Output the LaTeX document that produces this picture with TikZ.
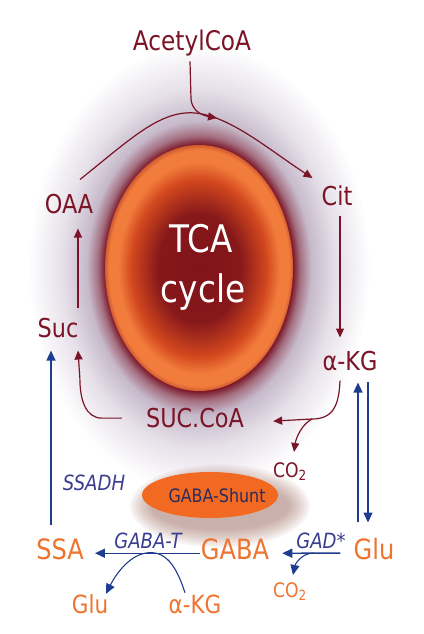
\documentclass[tikz,border=0pt]{standalone}
\usepackage{fontspec}
\setmainfont{DejaVu Sans}[FakeStretch=0.86]
\usetikzlibrary{arrows.meta}
\usepackage{xcolor}
\definecolor{tcared}{HTML}{7A1426}
\definecolor{gabaorange}{HTML}{EE7430}
\definecolor{shuntblue}{HTML}{1F3D8F}
\definecolor{enzymeblue}{HTML}{3B3D8F}
\definecolor{shunttext}{HTML}{2B2C5C}
\definecolor{shuntorange}{HTML}{F26A22}
\definecolor{shuntshadow}{HTML}{8A4A3A}
\definecolor{haloviolet}{HTML}{C6B9CA}
\definecolor{halopale}{HTML}{E6E0E9}
\definecolor{cyclecore}{HTML}{80141A}
\definecolor{cyclemid}{HTML}{D2481E}
\definecolor{cycleedge}{HTML}{F27C3C}
\definecolor{cyclerim}{HTML}{9A2A20}
\pgfdeclareradialshading{cyclehalo}{\pgfpoint{0bp}{0bp}}{%
  color(0bp)=(tcared); color(13.7bp)=(tcared); color(14.8bp)=(tcared!45!haloviolet);
  color(16.4bp)=(haloviolet); color(20bp)=(halopale); color(25bp)=(white); color(50bp)=(white)}
\pgfdeclareradialshading{cyclefill}{\pgfpoint{0bp}{0bp}}{%
  color(0bp)=(cyclecore); color(11bp)=(cyclecore!92!cyclemid); color(18bp)=(cyclemid);
  color(21.5bp)=(cycleedge); color(24bp)=(cycleedge); color(25bp)=(cycleedge!60!cyclerim); color(50bp)=(cyclerim)}
\tikzset{
  tcalabel/.style={text=tcared, font=\fontsize{26}{28}\selectfont, anchor=base, inner sep=3pt},
  gabalabel/.style={text=gabaorange, font=\fontsize{28}{30}\selectfont, anchor=base, inner sep=3pt},
  sidelabel/.style={gabalabel, font=\fontsize{25}{27}\selectfont},
  enzymelabel/.style={text=enzymeblue, font=\fontsize{21}{23}\selectfont\itshape, anchor=base, inner sep=2pt},
  cyclelabel/.style={text=white, font=\fontsize{38}{42}\selectfont, anchor=base},
  co2label/.style={font=\fontsize{20}{22}\selectfont, anchor=base, inner sep=3pt},
  tcaarrow/.style={draw=tcared, line width=1.2pt, -{Triangle[length=9pt,width=8pt]}},
  shuntarrow/.style={draw=shuntblue, line width=1.4pt, -{Triangle[length=10pt,width=9pt]}}
}
\begin{document}
\begin{tikzpicture}[x=1pt, y=-1pt]
    \useasboundingbox[fill=white] (0,0) rectangle (423,634);

    % Sfondo
    \shade[shading=cyclehalo] (199,268) ellipse (171 and 224);
    \foreach \k in {0,...,8}
        \fill[shuntshadow, opacity=0.06] (220,506) ellipse ({69+2.6*\k} and {24+2.2*\k});
    \shade[shading=cyclefill] (199,268) ellipse (94 and 123);
    \fill[shuntorange] (210,495) ellipse (68 and 23);

    % Ciclo TCA
    \node[cyclelabel] (tca) at (201,252) {TCA};
    \node[cyclelabel] (cycle) at (203,302) {cycle};
    \node[tcalabel, font=\fontsize{27}{29}\selectfont] (acetylcoa) at (192,51) {AcetylCoA};
    \node[tcalabel] (oaa) at (69,213) {OAA};
    \node[tcalabel] (cit) at (337,205) {Cit};
    \node[tcalabel] (akg) at (350,370) {α-KG};
    \node[tcalabel] (succoa) at (195,427) {SUC.CoA};
    \node[tcalabel] (suc) at (58,337) {Suc};
    \node[co2label, text=tcared] (co2top) at (290,477) {CO\textsubscript{2}};

    % GABA shunt
    \node[text=shunttext, font=\fontsize{18.5}{20}\selectfont, anchor=base] (shunt) at (217,502) {GABA-Shunt};
    \node[enzymelabel] (ssadh) at (94,490) {SSADH};
    \node[gabalabel] (ssa) at (60,559) {SSA};
    \node[gabalabel] (gaba) at (235,559) {GABA};
    \node[gabalabel] (glu) at (374,559) {Glu};
    \node[enzymelabel] (gabat) at (148,548) {GABA-T};
    \node[enzymelabel] (gad) at (321,548) {GAD*};
    \node[sidelabel] (glubottom) at (90,613) {Glu};
    \node[sidelabel] (akgbottom) at (195,613) {α-KG};
    \node[co2label, text=gabaorange] (co2bottom) at (290,597) {CO\textsubscript{2}};

    % Punti di raccordo
    \coordinate (cyclepeak) at (195,113);
    \coordinate (join) at (217,118);
    \coordinate (cofork) at (312,419);
    \coordinate (gabathump) at (146,553);
    \coordinate (gadfork) at (314,553);

    % Frecce del ciclo
    \draw[tcaarrow] ([xshift=11pt,yshift=11pt]oaa.north) .. controls +(50,-40) and +(-35,-3) .. (cyclepeak)
        .. controls +(35,3) and +(-43,-28) .. ([xshift=-6pt,yshift=4pt]cit.north west);
    \draw[tcaarrow] ([xshift=-2pt,yshift=-1.6pt]acetylcoa.south) -- ++(1,38) .. controls +(1,10) and +(-17,-3) .. (join);
    \draw[tcaarrow] ([xshift=3pt,yshift=-7pt]cit.south) -- ([xshift=-10pt,yshift=10pt]akg.north);
    \draw[tcaarrow] ([xshift=-10pt,yshift=-7pt]akg.south) .. controls +(-1,25) and +(21,0) .. (cofork)
        -- ([xshift=26pt,yshift=-3.6pt]succoa.east);
    \draw[tcaarrow] (cofork) .. controls +(-10,5) and +(2,-14) .. ([xshift=4pt,yshift=7pt]co2top.north);
    \draw[tcaarrow] ([xshift=-21pt,yshift=-0.6pt]succoa.west) -- ++(-20,0) .. controls +(-16,0) and +(0,22) .. ++(-22,-40)
        -- ([xshift=20pt,yshift=-10pt]suc.south);
    \draw[tcaarrow] ([xshift=20pt,yshift=7pt]suc.north) -- ([xshift=9pt,yshift=-12pt]oaa.south);

    % Frecce dello shunt
    \draw[shuntarrow] ([xshift=-9pt,yshift=10pt]ssa.north) -- ([xshift=-7pt,yshift=-10pt]suc.south);
    \draw[shuntarrow] ([xshift=-16pt,yshift=13pt]glu.north) -- ([xshift=8pt,yshift=-9pt]akg.south);
    \draw[shuntarrow] ([xshift=18pt,yshift=-8pt]akg.south) -- ([xshift=-6pt,yshift=12pt]glu.north);
    \draw[shuntarrow] ([xshift=2pt,yshift=-4.4pt]gaba.west) -- ([xshift=8pt,yshift=-4.4pt]ssa.east);
    \draw[shuntarrow, line width=1.1pt] ([xshift=-10pt,yshift=-1.5pt]akgbottom.north) .. controls +(-9,-28) and +(19,-3) .. (gabathump)
        .. controls +(-18,3) and +(9,-18) .. ([xshift=16pt,yshift=-3pt]glubottom.north);
    \draw[shuntarrow] ([xshift=-10pt,yshift=-4.6pt]glu.west) -- ([xshift=10pt,yshift=-4.4pt]gaba.east);
    \draw[shuntarrow, line width=1.1pt] (gadfork) .. controls +(-13,0) and +(2,-10) .. ([xshift=3pt,yshift=4pt]co2bottom.north);
\end{tikzpicture}
\end{document}
